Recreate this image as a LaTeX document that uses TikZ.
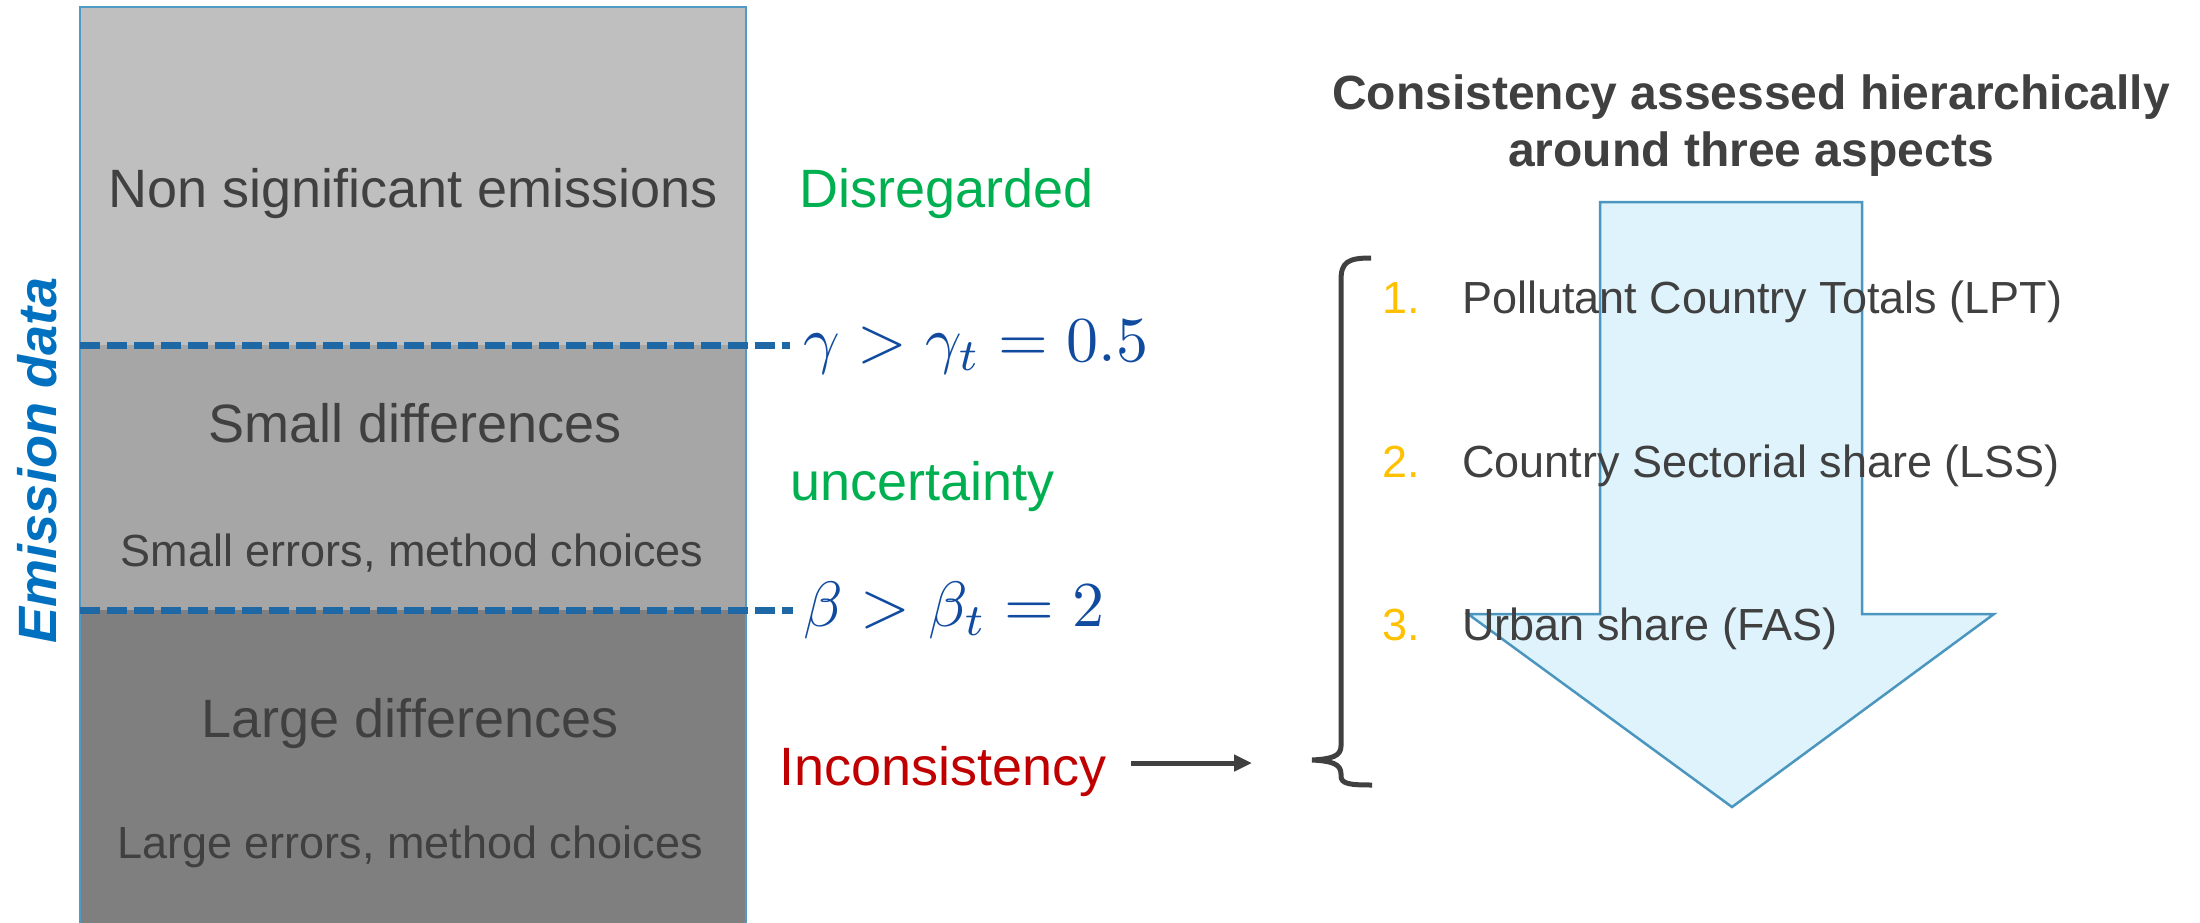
\documentclass[tikz,border=0pt]{standalone}
\usepackage{graphicx}
\usepackage{fontspec}
\newfontfamily\arial{Liberation Sans}
\usetikzlibrary{arrows.meta}
\definecolor{txtgray}{RGB}{64,64,64}
\definecolor{boxtop}{RGB}{191,191,191}
\definecolor{boxmid}{RGB}{166,166,166}
\definecolor{boxbot}{RGB}{127,127,127}
\definecolor{boxedge}{RGB}{80,155,195}
\definecolor{dashblue}{RGB}{31,104,166}
\definecolor{mathblue}{RGB}{17,75,160}
\definecolor{embblue}{RGB}{0,112,192}
\definecolor{okgreen}{RGB}{0,176,80}
\definecolor{badred}{RGB}{192,0,0}
\definecolor{numgold}{RGB}{255,192,0}
\definecolor{arrfill}{RGB}{222,243,252}
\definecolor{arredge}{RGB}{75,150,190}
\begin{document}
\begin{tikzpicture}[x=1pt,y=-1pt,
  bigtxt/.style={font=\arial\fontsize{54}{64}\selectfont, text=txtgray, inner sep=0pt, anchor=base},
  smalltxt/.style={font=\arial\fontsize{45}{54}\selectfont, text=txtgray, inner sep=0pt, anchor=base},
  sidetxt/.style={font=\arial\fontsize{54}{64}\selectfont, inner sep=0pt, anchor=base west},
  mathtxt/.style={text=mathblue, inner sep=0pt, anchor=base west},
  titletxt/.style={font=\arial\bfseries\fontsize{48}{58}\selectfont, text=txtgray, inner sep=0pt, anchor=base},
  numtxt/.style={font=\arial\fontsize{45}{54}\selectfont, text=numgold, inner sep=0pt, anchor=base west},
  itemtxt/.style={font=\arial\fontsize{45}{54}\selectfont, text=txtgray, inner sep=0pt, anchor=base west},
  thresh/.style={draw=dashblue, line width=7pt, dash pattern=on 20pt off 7pt},
  darkline/.style={draw=txtgray, line width=5pt}
]
\useasboundingbox (0,0) rectangle (2200,923);

% stacked box
\fill[boxtop] (80,7) rectangle (746,345);
\fill[boxmid] (80,345) rectangle (746,610);
\fill[boxbot] (80,610) rectangle (746,923);
\draw[boxedge, line width=2.5pt] (80,923) -- (80,7) -- (746,7) -- (746,923);

\coordinate (t1a) at (80,345);
\coordinate (t1b) at (790,345);
\coordinate (t2a) at (80,610);
\coordinate (t2b) at (793,610);
\draw[thresh] (t1a) -- (t1b);
\draw[thresh] (t2a) -- (t2b);

\node[bigtxt] (nonsig) at (413,207) {Non significant emissions};
\node[bigtxt] (smalld) at (415,442) {Small differences};
\node[smalltxt] (smalle) at (412,566) {Small errors, method choices};
\node[bigtxt] (larged) at (410,737) {Large differences};
\node[smalltxt] (largee) at (410,858) {Large errors, method choices};

\node[font=\arial\bfseries\itshape\fontsize{54}{64}\selectfont, text=embblue, inner sep=0pt, anchor=base, rotate=90] (emdata) at (56,460) {Emission data};

% side labels
\node[sidetxt, text=okgreen] (disreg) at (799,207) {Disregarded};
\node[mathtxt] (gam) at (803,361) {\scalebox{6.4}{$\gamma > \gamma_t = 0.5$}};
\node[sidetxt, text=okgreen] (uncert) at (790,500) {uncertainty};
\node[mathtxt] (bet) at (803,626) {\scalebox{6.4}{$\beta > \beta_t = 2$}};
\node[sidetxt, text=badred] (incons) at (779,785) {Inconsistency};

\coordinate (arrA) at (1131,763);
\coordinate (arrB) at (1252,763);
\draw[darkline, -{Triangle[length=18pt,width=16pt]}] (arrA) -- (arrB);

% big arrow
\draw[fill=arrfill, draw=arredge, line width=2.5pt]
  (1600,202) -- (1862,202) -- (1862,614) -- (1994,614) -- (1732,807)
  -- (1468,614) -- (1600,614) -- cycle;

% bracket
\draw[darkline, line cap=butt]
  (1371,258) .. controls (1348,258) and (1341,262) .. (1341,280)
  -- (1341,746) .. controls (1341,756) and (1332,759) .. (1312,760)
  .. controls (1332,761) and (1341,764) .. (1341,774)
  -- (1341,776) .. controls (1341,784) and (1350,785) .. (1372,785);

% title
\node[titletxt] (title1) at (1751,110) {Consistency assessed hierarchically};
\node[titletxt] (title2) at (1751,167) {around three aspects};

% list
\node[numtxt] (n1) at (1382,313) {1.};
\node[itemtxt] (i1) at (1462,313) {Pollutant Country Totals (LPT)};
\node[numtxt] (n2) at (1382,477) {2.};
\node[itemtxt] (i2) at (1462,477) {Country Sectorial share (LSS)};
\node[numtxt] (n3) at (1382,640) {3.};
\node[itemtxt] (i3) at (1462,640) {Urban share (FAS)};
\end{tikzpicture}
\end{document}
